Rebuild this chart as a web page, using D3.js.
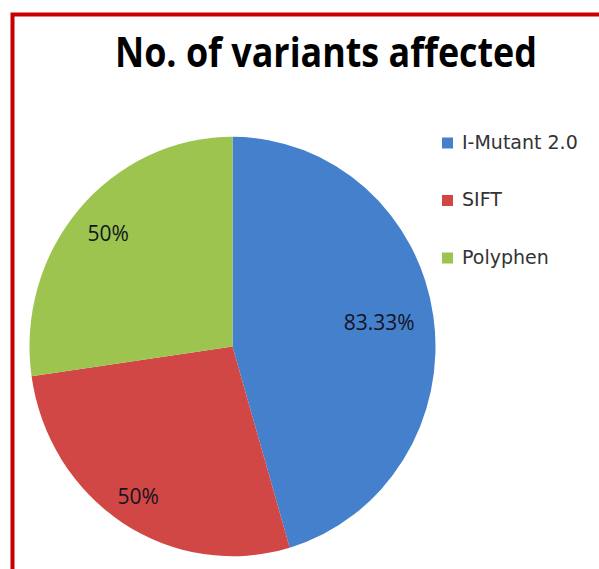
<html>
<head>
	<meta charset='utf-8' />
	<title>No. of variants affected</title>
	<script src="https://cdn.jsdelivr.net/npm/d3@7"></script>
	<style>
	body { margin:0; background:#fff; }
	</style>
</head>
<body>
<script>

	var tools = ["I-Mutant 2.0", "SIFT", "Polyphen"];
	var values = [83.33, 50, 50];
	var labels = ["83.33%", "50%", "50%"];
	var colors = ["#4580cc", "#d04745", "#9cc44e"];

	var width = 599, height = 569;

	var svg = d3.select("body").append("svg")
		.attr("width", width)
		.attr("height", height);

	// red frame round the chart area, runs off right and bottom
	svg.append("rect")
		.attr("x", 12.5)
		.attr("y", 14.5)
		.attr("width", 620)
		.attr("height", 600)
		.attr("fill", "none")
		.attr("stroke", "#c80000")
		.attr("stroke-width", 4);

	svg.append("text")
		.attr("x", 326)
		.attr("y", 67)
		.attr("text-anchor", "middle")
		.attr("font-family", "Open Sans")
		.attr("font-weight", "bold")
		.attr("font-size", "41px")
		.attr("textLength", 422)
		.attr("lengthAdjust", "spacingAndGlyphs")
		.attr("fill", "#000")
		.text("No. of variants affected");

	var cx = 232.5, cy = 346.5, r = 203, sy = 1.033;

	var pie = d3.pie().sort(null).value(function(d) { return d; });
	var arcs = pie(values);
	var arc = d3.arc().innerRadius(0).outerRadius(r);

	var g = svg.append("g").attr("transform", "translate(" + cx + "," + cy + ") scale(1," + sy + ")");
	g.selectAll("path")
		.data(arcs)
		.enter().append("path")
		.attr("d", arc)
		.attr("fill", function(d, i) { return colors[i]; });

	// label distance from centre, as share of radius (Excel best fit)
	var labelR = [0.73, 0.86, 0.81];
	svg.selectAll(".lbl")
		.data(arcs)
		.enter().append("text")
		.attr("class", "lbl")
		.attr("x", function(d, i) {
			var a = (d.startAngle + d.endAngle) / 2;
			return cx + Math.sin(a) * r * labelR[i];
		})
		.attr("y", function(d, i) {
			var a = (d.startAngle + d.endAngle) / 2;
			return cy - Math.cos(a) * r * labelR[i] * sy;
		})
		.attr("text-anchor", "middle")
		.attr("dominant-baseline", "middle")
		.attr("font-family", "Open Sans")
		.attr("font-size", "21px")
		.attr("fill", "#14141e")
		.text(function(d, i) { return labels[i]; });

	var legend = svg.append("g").attr("transform", "translate(442,143)");
	tools.forEach(function(t, i) {
		legend.append("rect")
			.attr("x", 0)
			.attr("y", i * 57.5 - 5.5)
			.attr("width", 11)
			.attr("height", 11)
			.attr("fill", colors[i]);
		legend.append("text")
			.attr("x", 20)
			.attr("y", i * 57.5)
			.attr("dominant-baseline", "middle")
			.attr("font-family", "DejaVu Sans")
			.attr("font-size", "19px")
			.attr("fill", "#333")
			.text(t);
	});

</script>
</body>
</html>
